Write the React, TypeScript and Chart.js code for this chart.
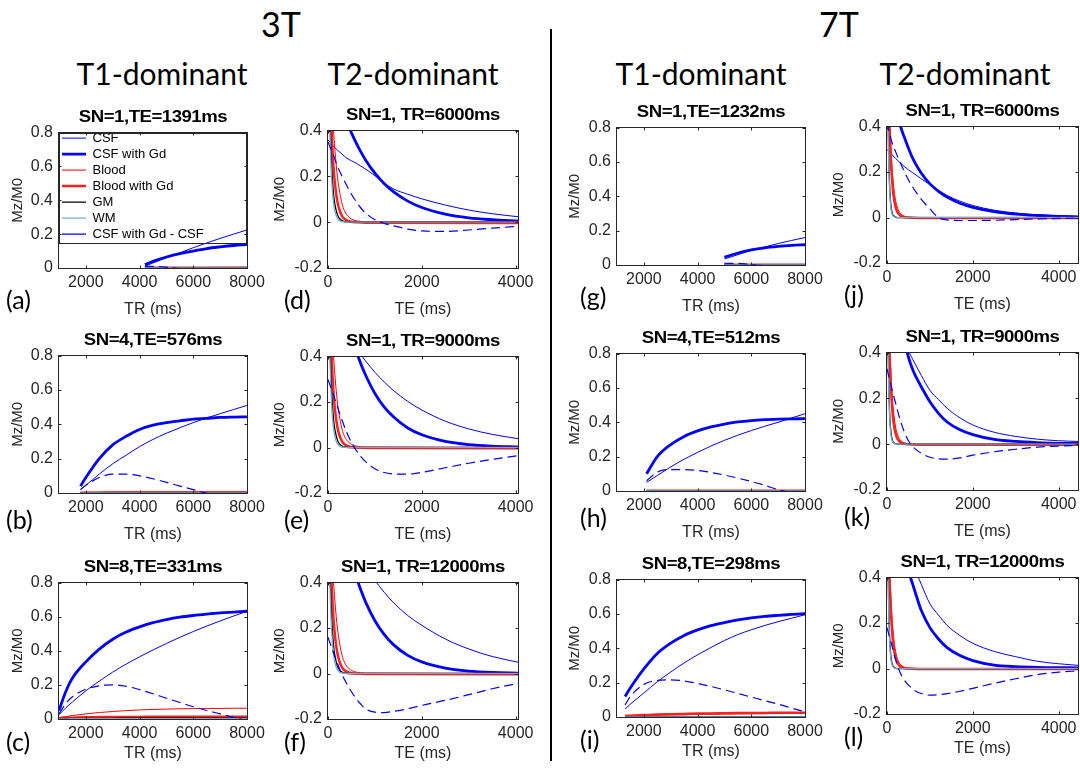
import React, { useEffect, useRef } from 'react';
import { Chart, registerables } from 'chart.js';

Chart.register(...registerables);

// ------------------------------------------------------------------
// Data
// ------------------------------------------------------------------
const SERIES_LABELS = ['CSF', 'CSF with Gd', 'Blood', 'Blood with Gd', 'GM', 'WM', 'CSF with Gd - CSF'];

const TR_TICKS = [2000, 4000, 6000, 8000];
const TE_TICKS = [0, 2000, 4000];
const T1_Y_TICKS = [0, 0.2, 0.4, 0.6, 0.8];
const T2_Y_TICKS = [-0.2, 0, 0.2, 0.4];

// (a) 3T, SN=1, TE=1391ms
const TR_A = [4200, 4500, 5000, 5500, 6000, 6500, 7000, 7500, 8000];
const A_CSF = [0.01, 0.03, 0.06, 0.09, 0.12, 0.148, 0.175, 0.2, 0.225];
const A_CSFGD = [0.02, 0.04, 0.065, 0.085, 0.1, 0.115, 0.125, 0.133, 0.138];
const A_BLOOD = [0.002, 0.002, 0.003, 0.003, 0.003, 0.003, 0.004, 0.004, 0.004];
const A_BLOODGD = [0.001, 0.001, 0.002, 0.002, 0.002, 0.002, 0.002, 0.002, 0.002];
const A_GM = [0.001, 0.001, 0.001, 0.001, 0.001, 0.001, 0.001, 0.001, 0.001];
const A_WM = [0.001, 0.001, 0.001, 0.001, 0.001, 0.001, 0.001, 0.001, 0.001];
const A_DIFF = [0.01, 0.01, 0.005, -0.005, -0.02, -0.033, -0.05, -0.067, -0.087];

// (b) 3T, SN=4, TE=576ms
const TR_B = [1800, 2000, 2500, 3000, 3500, 4000, 4500, 5000, 5500, 6000, 6500, 7000, 7500, 8000];
const B_CSF = [0.02, 0.045, 0.11, 0.17, 0.22, 0.27, 0.312, 0.348, 0.38, 0.41, 0.437, 0.462, 0.486, 0.51];
const B_CSFGD = [0.04, 0.09, 0.2, 0.28, 0.33, 0.37, 0.395, 0.41, 0.42, 0.43, 0.435, 0.44, 0.442, 0.443];
const B_BLOOD = [0.003, 0.004, 0.005, 0.006, 0.006, 0.007, 0.007, 0.007, 0.007, 0.007, 0.007, 0.007, 0.007, 0.007];
const B_BLOODGD = [0.002, 0.002, 0.002, 0.003, 0.003, 0.003, 0.003, 0.003, 0.003, 0.003, 0.003, 0.003, 0.003, 0.003];
const B_GM = [0.001, 0.001, 0.001, 0.001, 0.001, 0.001, 0.001, 0.001, 0.001, 0.001, 0.001, 0.001, 0.001, 0.001];
const B_WM = [0.001, 0.001, 0.001, 0.001, 0.001, 0.001, 0.001, 0.001, 0.001, 0.001, 0.001, 0.001, 0.001, 0.001];
const B_DIFF = [0.02, 0.045, 0.09, 0.11, 0.11, 0.1, 0.083, 0.062, 0.04, 0.02, -0.002, -0.022, -0.044, -0.067];

// (c) 3T, SN=8, TE=331ms
const TR_C = [1000, 1250, 1500, 2000, 2500, 3000, 3500, 4000, 4500, 5000, 5500, 6000, 6500, 7000, 7500, 8000];
const C_CSF = [0.025, 0.065, 0.1, 0.165, 0.222, 0.275, 0.322, 0.365, 0.405, 0.443, 0.479, 0.513, 0.545, 0.575, 0.604, 0.632];
const C_CSFGD = [0.05, 0.16, 0.24, 0.335, 0.41, 0.468, 0.51, 0.54, 0.565, 0.583, 0.597, 0.607, 0.615, 0.622, 0.627, 0.632];
const C_BLOOD = [0.008, 0.014, 0.02, 0.03, 0.038, 0.044, 0.049, 0.053, 0.056, 0.058, 0.06, 0.061, 0.062, 0.062, 0.063, 0.063];
const C_BLOODGD = [0.005, 0.007, 0.008, 0.01, 0.011, 0.012, 0.012, 0.012, 0.013, 0.013, 0.013, 0.013, 0.013, 0.013, 0.013, 0.013];
const C_GM = [0.002, 0.003, 0.003, 0.004, 0.004, 0.004, 0.005, 0.005, 0.005, 0.005, 0.005, 0.005, 0.005, 0.005, 0.005, 0.005];
const C_WM = [0.001, 0.001, 0.002, 0.002, 0.002, 0.002, 0.002, 0.002, 0.002, 0.002, 0.002, 0.002, 0.002, 0.002, 0.002, 0.002];
const C_DIFF = [0.03, 0.09, 0.13, 0.175, 0.195, 0.2, 0.192, 0.172, 0.148, 0.122, 0.097, 0.072, 0.05, 0.03, 0.01, -0.01];

// (g) 7T, SN=1, TE=1232ms
const TR_G = [5000, 5500, 6000, 6500, 7000, 7500, 8000];
const G_CSF = [0.035, 0.06, 0.085, 0.105, 0.125, 0.143, 0.16];
const G_CSFGD = [0.045, 0.07, 0.088, 0.1, 0.108, 0.114, 0.118];
const G_BLOOD = [0.002, 0.002, 0.002, 0.002, 0.002, 0.002, 0.002];
const G_BLOODGD = [0.001, 0.001, 0.001, 0.001, 0.001, 0.001, 0.001];
const G_GM = [0.001, 0.001, 0.001, 0.001, 0.001, 0.001, 0.001];
const G_WM = [0.001, 0.001, 0.001, 0.001, 0.001, 0.001, 0.001];
const G_DIFF = [0.01, 0.01, 0.003, -0.005, -0.017, -0.029, -0.042];

// (h) 7T, SN=4, TE=512ms
const TR_H = [2100, 2500, 3000, 3500, 4000, 4500, 5000, 5500, 6000, 6500, 7000, 7500, 8000];
const H_CSF = [0.05, 0.09, 0.14, 0.185, 0.225, 0.262, 0.295, 0.325, 0.352, 0.377, 0.4, 0.425, 0.45];
const H_CSFGD = [0.1, 0.2, 0.27, 0.318, 0.35, 0.373, 0.39, 0.402, 0.41, 0.415, 0.418, 0.42, 0.421];
const H_BLOOD = [0.003, 0.003, 0.003, 0.003, 0.003, 0.003, 0.003, 0.003, 0.003, 0.003, 0.003, 0.003, 0.003];
const H_BLOODGD = [0.002, 0.002, 0.002, 0.002, 0.002, 0.002, 0.002, 0.002, 0.002, 0.002, 0.002, 0.002, 0.002];
const H_GM = [0.001, 0.001, 0.001, 0.001, 0.001, 0.001, 0.001, 0.001, 0.001, 0.001, 0.001, 0.001, 0.001];
const H_WM = [0.001, 0.001, 0.001, 0.001, 0.001, 0.001, 0.001, 0.001, 0.001, 0.001, 0.001, 0.001, 0.001];
const H_DIFF = [0.06, 0.11, 0.125, 0.125, 0.12, 0.108, 0.093, 0.075, 0.055, 0.033, 0.008, -0.01, -0.03];

// (i) 7T, SN=8, TE=298ms
const TR_I = [1300, 1500, 2000, 2500, 3000, 3500, 4000, 4500, 5000, 5500, 6000, 6500, 7000, 7500, 8000];
const I_CSF = [0.047, 0.075, 0.14, 0.205, 0.262, 0.315, 0.362, 0.405, 0.445, 0.48, 0.508, 0.533, 0.555, 0.575, 0.595];
const I_CSFGD = [0.12, 0.17, 0.28, 0.37, 0.43, 0.475, 0.507, 0.532, 0.55, 0.565, 0.577, 0.586, 0.592, 0.597, 0.602];
const I_BLOOD = [0.005, 0.006, 0.008, 0.01, 0.012, 0.013, 0.015, 0.016, 0.017, 0.018, 0.019, 0.02, 0.02, 0.021, 0.021];
const I_BLOODGD = [0.006, 0.008, 0.011, 0.014, 0.016, 0.018, 0.02, 0.021, 0.022, 0.023, 0.024, 0.024, 0.025, 0.025, 0.025];
const I_GM = [0.002, 0.002, 0.002, 0.002, 0.002, 0.002, 0.002, 0.002, 0.002, 0.002, 0.002, 0.002, 0.002, 0.002, 0.002];
const I_WM = [0.001, 0.001, 0.001, 0.001, 0.001, 0.001, 0.001, 0.001, 0.001, 0.001, 0.001, 0.001, 0.001, 0.001, 0.001];
const I_DIFF = [0.07, 0.12, 0.19, 0.213, 0.216, 0.21, 0.196, 0.178, 0.158, 0.137, 0.116, 0.095, 0.075, 0.052, 0.03];

// T2-dominant panels: tissue curves (fast decay) at 3T and 7T
const TE3_FAST = [0, 25, 50, 75, 100, 125, 150, 200, 250, 300, 350, 400, 500, 600, 800, 4050];
const GM_3T = [1.0, 0.62, 0.4, 0.26, 0.17, 0.11, 0.075, 0.033, 0.015, 0.007, 0.003, 0.001, 0, 0, 0, 0];
const WM_3T = [1.0, 0.56, 0.33, 0.2, 0.12, 0.075, 0.045, 0.017, 0.006, 0.002, 0.001, 0, 0, 0, 0, 0];
const BLOOD_3T = [1.0, 0.82, 0.68, 0.56, 0.46, 0.38, 0.31, 0.2, 0.13, 0.08, 0.05, 0.032, 0.014, 0.006, 0.003, 0.002];
const BLOODGD_3T = [1.0, 0.74, 0.55, 0.41, 0.3, 0.22, 0.165, 0.09, 0.05, 0.027, 0.015, 0.008, 0.002, 0, -0.002, -0.003];

const TE7_FAST = [0, 25, 50, 75, 100, 125, 150, 200, 250, 300, 350, 400, 500, 600, 800, 4450];
const GM_7T = [1.0, 0.45, 0.2, 0.09, 0.04, 0.018, 0.008, 0.002, 0, 0, 0, 0, 0, 0, 0, 0];
const WM_7T = [1.0, 0.42, 0.18, 0.075, 0.03, 0.013, 0.005, 0.001, 0, 0, 0, 0, 0, 0, 0, 0];
const BLOOD_7T = [1.0, 0.72, 0.52, 0.38, 0.27, 0.2, 0.145, 0.075, 0.04, 0.02, 0.011, 0.006, 0.002, 0.001, 0, 0];
const BLOODGD_7T = [1.0, 0.68, 0.46, 0.32, 0.22, 0.15, 0.1, 0.047, 0.022, 0.01, 0.005, 0.002, 0, -0.001, -0.002, -0.002];

// T2-dominant panels: CSF curves (slow decay)
const TE3_SLOW = [0, 100, 200, 300, 400, 500, 600, 700, 800, 1000, 1200, 1400, 1700, 2000, 2500, 3000, 3500, 4050];
// (d) 3T, TR=6000ms
const D_CSF = [0.36, 0.335, 0.315, 0.297, 0.28, 0.268, 0.258, 0.245, 0.232, 0.203, 0.17, 0.145, 0.122, 0.102, 0.075, 0.053, 0.037, 0.024];
const D_CSFGD = [0.713, 0.632, 0.56, 0.496, 0.439, 0.39, 0.346, 0.307, 0.272, 0.214, 0.168, 0.132, 0.092, 0.064, 0.035, 0.019, 0.011, 0.0055];
const D_DIFF = [0.35, 0.3, 0.245, 0.2, 0.16, 0.122, 0.09, 0.062, 0.04, 0.011, -0.005, -0.016, -0.03, -0.038, -0.04, -0.034, -0.026, -0.018];
// (e) 3T, TR=9000ms
const E_CSF = [0.665, 0.62, 0.578, 0.54, 0.503, 0.469, 0.438, 0.408, 0.381, 0.331, 0.288, 0.25, 0.203, 0.165, 0.116, 0.082, 0.058, 0.039];
const E_CSFGD = [1.016, 0.879, 0.76, 0.658, 0.569, 0.492, 0.426, 0.368, 0.319, 0.238, 0.178, 0.134, 0.086, 0.056, 0.027, 0.013, 0.0064, 0.0029];
const E_DIFF = [0.3, 0.24, 0.18, 0.12, 0.066, 0.023, -0.012, -0.04, -0.062, -0.093, -0.11, -0.116, -0.117, -0.109, -0.089, -0.069, -0.052, -0.036];
// (f) 3T, TR=12000ms
const F_CSF = [0.816, 0.762, 0.711, 0.664, 0.62, 0.579, 0.54, 0.504, 0.471, 0.41, 0.357, 0.311, 0.255, 0.212, 0.152, 0.108, 0.075, 0.05];
const F_CSFGD = [1.06, 0.914, 0.785, 0.674, 0.579, 0.497, 0.427, 0.367, 0.315, 0.232, 0.171, 0.126, 0.08, 0.051, 0.024, 0.011, 0.005, 0.0022];
const F_DIFF = [0.16, 0.1, 0.045, -0.005, -0.045, -0.08, -0.11, -0.135, -0.155, -0.17, -0.172, -0.166, -0.155, -0.14, -0.118, -0.093, -0.067, -0.043];

const TE7_SLOW = [0, 100, 200, 300, 400, 500, 600, 700, 800, 1000, 1200, 1400, 1700, 2000, 2500, 3000, 3500, 4000, 4450];
// (j) 7T, TR=6000ms
const J_CSF = [0.3, 0.28, 0.26, 0.242, 0.225, 0.21, 0.197, 0.184, 0.17, 0.145, 0.12, 0.097, 0.072, 0.053, 0.032, 0.02, 0.012, 0.008, 0.005];
const J_CSFGD = [0.7, 0.58, 0.49, 0.41, 0.355, 0.305, 0.26, 0.225, 0.195, 0.148, 0.115, 0.09, 0.063, 0.045, 0.026, 0.015, 0.009, 0.005, 0.003];
const J_DIFF = [0.42, 0.34, 0.29, 0.245, 0.205, 0.165, 0.133, 0.105, 0.08, 0.038, 0.0, -0.01, -0.013, -0.013, -0.012, -0.009, -0.006, -0.004, -0.003];
// (k) 7T, TR=9000ms
const K_CSF = [0.75, 0.67, 0.6, 0.53, 0.47, 0.41, 0.37, 0.335, 0.3, 0.235, 0.195, 0.157, 0.115, 0.084, 0.052, 0.034, 0.022, 0.015, 0.012];
const K_CSFGD = [1.0, 0.85, 0.7, 0.56, 0.46, 0.38, 0.325, 0.285, 0.25, 0.185, 0.135, 0.097, 0.063, 0.042, 0.021, 0.012, 0.007, 0.004, 0.003];
const K_DIFF = [0.33, 0.25, 0.18, 0.11, 0.055, 0.015, -0.01, -0.027, -0.04, -0.057, -0.064, -0.065, -0.06, -0.048, -0.033, -0.022, -0.013, -0.008, -0.005];
// (l) 7T, TR=12000ms
const L_CSF = [0.9, 0.82, 0.74, 0.67, 0.6, 0.52, 0.465, 0.415, 0.37, 0.285, 0.235, 0.19, 0.145, 0.111, 0.075, 0.052, 0.032, 0.021, 0.014];
const L_CSFGD = [1.0, 0.86, 0.72, 0.6, 0.5, 0.43, 0.37, 0.31, 0.255, 0.18, 0.13, 0.092, 0.057, 0.035, 0.015, 0.008, 0.005, 0.004, 0.003];
const L_DIFF = [0.18, 0.11, 0.04, -0.015, -0.05, -0.073, -0.09, -0.103, -0.11, -0.117, -0.115, -0.11, -0.1, -0.087, -0.065, -0.045, -0.027, -0.016, -0.01];

// ------------------------------------------------------------------
// Styles and layout
// ------------------------------------------------------------------
const FONT = '"Liberation Sans", Arial, Helvetica, sans-serif';
const HFONT = 'Lato, "Open Sans", sans-serif';
const AX = '#262626';
const YW = 62; // y-axis box width
const PT = 12; // top padding of each canvas
const PR = 30; // right padding of each canvas
const XH = 52; // x-axis box height
const LEGEND_H = 110;
const XTITLE_FIX = 6;

const STYLES = [
  { color: '#0000FF', width: 1, dash: [] as number[] },
  { color: '#0000FF', width: 2.8, dash: [] as number[] },
  { color: '#FF0000', width: 1, dash: [] as number[] },
  { color: '#FF2020', width: 2.5, dash: [] as number[] },
  { color: '#000000', width: 1.3, dash: [] as number[] },
  { color: '#72AACE', width: 1.3, dash: [] as number[] },
  { color: '#0000FF', width: 1.2, dash: [9, 5] },
];

type Series = [number[], number[]];
interface PanelCfg {
  id: string;
  kind: 'T1' | 'T2';
  title: string;
  rect: [number, number, number, number];
  xMax: number;
  series: Series[];
  legend?: boolean;
  yTitleDx: number;
  xTitleDy: number;
  letterX: number;
  letterDy: number;
}

const t1 = (xs: number[], a: number[][]): Series[] => a.map((ys) => [xs, ys] as Series);
const t2 = (slow: number[], fast: number[], csf: number[], gd: number[], bl: number[], blgd: number[], gm: number[], wm: number[], diff: number[]): Series[] => [
  [slow, csf], [slow, gd], [fast, bl], [fast, blgd], [fast, gm], [fast, wm], [slow, diff],
];

const PANELS: PanelCfg[] = [
  { id: 'a', kind: 'T1', title: 'SN=1,TE=1391ms', rect: [59, 129, 247, 268], xMax: 8000, legend: true,
    series: t1(TR_A, [A_CSF, A_CSFGD, A_BLOOD, A_BLOODGD, A_GM, A_WM, A_DIFF]), yTitleDx: 41, xTitleDy: 36, letterX: 6, letterDy: 31 },
  { id: 'b', kind: 'T1', title: 'SN=4,TE=576ms', rect: [59, 352, 247, 493], xMax: 8000,
    series: t1(TR_B, [B_CSF, B_CSFGD, B_BLOOD, B_BLOODGD, B_GM, B_WM, B_DIFF]), yTitleDx: 41, xTitleDy: 36, letterX: 6, letterDy: 26 },
  { id: 'c', kind: 'T1', title: 'SN=8,TE=331ms', rect: [59, 579, 247, 719], xMax: 8000,
    series: t1(TR_C, [C_CSF, C_CSFGD, C_BLOOD, C_BLOODGD, C_GM, C_WM, C_DIFF]), yTitleDx: 41, xTitleDy: 29, letterX: 6, letterDy: 22 },
  { id: 'd', kind: 'T2', title: 'SN=1, TR=6000ms', rect: [328, 127, 518, 268], xMax: 4050,
    series: t2(TE3_SLOW, TE3_FAST, D_CSF, D_CSFGD, BLOOD_3T, BLOODGD_3T, GM_3T, WM_3T, D_DIFF), yTitleDx: 48, xTitleDy: 36, letterX: 284, letterDy: 31 },
  { id: 'e', kind: 'T2', title: 'SN=1, TR=9000ms', rect: [328, 353, 518, 493], xMax: 4050,
    series: t2(TE3_SLOW, TE3_FAST, E_CSF, E_CSFGD, BLOOD_3T, BLOODGD_3T, GM_3T, WM_3T, E_DIFF), yTitleDx: 48, xTitleDy: 36, letterX: 284, letterDy: 26 },
  { id: 'f', kind: 'T2', title: 'SN=1, TR=12000ms', rect: [328, 579, 518, 719], xMax: 4050,
    series: t2(TE3_SLOW, TE3_FAST, F_CSF, F_CSFGD, BLOOD_3T, BLOODGD_3T, GM_3T, WM_3T, F_DIFF), yTitleDx: 48, xTitleDy: 29, letterX: 284, letterDy: 22 },
  { id: 'g', kind: 'T1', title: 'SN=1,TE=1232ms', rect: [617, 124, 805, 265], xMax: 8000,
    series: t1(TR_G, [G_CSF, G_CSFGD, G_BLOOD, G_BLOODGD, G_GM, G_WM, G_DIFF]), yTitleDx: 42, xTitleDy: 36, letterX: 580, letterDy: 31 },
  { id: 'h', kind: 'T1', title: 'SN=4,TE=512ms', rect: [617, 350, 805, 491], xMax: 8000,
    series: t1(TR_H, [H_CSF, H_CSFGD, H_BLOOD, H_BLOODGD, H_GM, H_WM, H_DIFF]), yTitleDx: 42, xTitleDy: 36, letterX: 580, letterDy: 26 },
  { id: 'i', kind: 'T1', title: 'SN=8,TE=298ms', rect: [617, 576, 805, 717], xMax: 8000,
    series: t1(TR_I, [I_CSF, I_CSFGD, I_BLOOD, I_BLOODGD, I_GM, I_WM, I_DIFF]), yTitleDx: 42, xTitleDy: 29, letterX: 580, letterDy: 22 },
  { id: 'j', kind: 'T2', title: 'SN=1, TR=6000ms', rect: [887, 123, 1078, 263], xMax: 4450,
    series: t2(TE7_SLOW, TE7_FAST, J_CSF, J_CSFGD, BLOOD_7T, BLOODGD_7T, GM_7T, WM_7T, J_DIFF), yTitleDx: 48, xTitleDy: 36, letterX: 844, letterDy: 31 },
  { id: 'k', kind: 'T2', title: 'SN=1, TR=9000ms', rect: [887, 349, 1078, 490], xMax: 4450,
    series: t2(TE7_SLOW, TE7_FAST, K_CSF, K_CSFGD, BLOOD_7T, BLOODGD_7T, GM_7T, WM_7T, K_DIFF), yTitleDx: 48, xTitleDy: 36, letterX: 844, letterDy: 26 },
  { id: 'l', kind: 'T2', title: 'SN=1, TR=12000ms', rect: [887, 574, 1078, 714], xMax: 4450,
    series: t2(TE7_SLOW, TE7_FAST, L_CSF, L_CSFGD, BLOOD_7T, BLOODGD_7T, GM_7T, WM_7T, L_DIFF), yTitleDx: 48, xTitleDy: 29, letterX: 844, letterDy: 22 },
];

// draws MATLAB-like box with inward ticks (and the legend frame)
const boxPlugin = {
  id: 'matlabBox',
  afterLayout(chart: any) {
    const lg = chart.legend;
    if (lg && lg.options && lg.options.display) {
      const a = chart.chartArea;
      const h = lg.height;
      lg.left = a.left;
      lg.top = a.top - 4;
      lg.bottom = lg.top + h;
    }
  },
  afterDatasetsDraw(chart: any, _args: any, opts: any) {
    const { ctx, chartArea: a, scales } = chart;
    ctx.save();
    ctx.strokeStyle = AX;
    ctx.lineWidth = 1;
    ctx.setLineDash([]);
    const L = Math.round(a.left) - 0.5;
    const T = Math.round(a.top) - 0.5;
    const R = Math.round(a.right) + 0.5;
    const B = Math.round(a.bottom) + 0.5;
    ctx.strokeRect(L, T, R - L, B - T);
    const tl = 3;
    ctx.beginPath();
    for (const t of scales.x.ticks) {
      const px = Math.round(scales.x.getPixelForValue(t.value)) + 0.5;
      ctx.moveTo(px, B); ctx.lineTo(px, B - tl);
      ctx.moveTo(px, T); ctx.lineTo(px, T + tl);
    }
    for (const t of scales.y.ticks) {
      const py = Math.round(scales.y.getPixelForValue(t.value)) + 0.5;
      ctx.moveTo(L, py); ctx.lineTo(L + tl, py);
      ctx.moveTo(R, py); ctx.lineTo(R - tl, py);
    }
    ctx.stroke();
    if (opts && opts.legendFrame) {
      ctx.strokeStyle = AX;
      ctx.strokeRect(L + 1, T + 1, R - L - 2, LEGEND_H);
    }
    ctx.restore();
  },
};

function PanelChart({ p }: { p: PanelCfg }) {
  const ref = useRef<HTMLCanvasElement>(null);
  const [L, T, R, B] = p.rect;
  const w = YW + (R - L) + PR;
  const h = PT + (B - T) + XH;

  useEffect(() => {
    const isT1 = p.kind === 'T1';
    const xTicks = isT1 ? TR_TICKS : TE_TICKS;
    const yTicks = isT1 ? T1_Y_TICKS : T2_Y_TICKS;
    const chart = new Chart(ref.current as HTMLCanvasElement, {
      type: 'line',
      data: {
        datasets: p.series.map(([xs, ys], i) => ({
          label: SERIES_LABELS[i],
          data: xs.map((x, k) => ({ x, y: ys[k] })),
          borderColor: STYLES[i].color,
          backgroundColor: STYLES[i].color,
          borderWidth: STYLES[i].width,
          borderDash: STYLES[i].dash,
          pointRadius: 0,
          pointHoverRadius: 0,
          fill: false,
          cubicInterpolationMode: 'monotone',
          order: 6 - i,
        })),
      },
      options: {
        animation: false,
        responsive: false,
        devicePixelRatio: 1,
        events: [],
        layout: { padding: { left: 0, top: PT, right: PR, bottom: 0 } },
        plugins: {
          tooltip: { enabled: false },
          title: { display: false },
          legend: p.legend
            ? {
                display: true,
                position: 'chartArea',
                align: 'start',
                labels: {
                  usePointStyle: true,
                  pointStyle: 'line',
                  pointStyleWidth: 24,
                  boxHeight: 13,
                  padding: 3,
                  color: '#000',
                  font: { family: FONT, size: 13 },
                  sort: (a: any, b: any) => a.datasetIndex - b.datasetIndex,
                },
              }
            : { display: false },
          matlabBox: { legendFrame: !!p.legend },
        } as any,
        scales: {
          x: {
            type: 'linear',
            min: isT1 ? 1000 : 0,
            max: p.xMax,
            grid: { display: false, drawTicks: false },
            border: { display: false },
            afterBuildTicks: (s: any) => { s.ticks = xTicks.map((v) => ({ value: v })); },
            afterFit: (s: any) => { s.height = XH; },
            ticks: {
              autoSkip: false, maxRotation: 0, padding: 5, color: AX,
              font: { family: FONT, size: 16 },
              callback: (v: any) => String(v),
            },
            title: {
              display: true, text: isT1 ? 'TR (ms)' : 'TE (ms)', color: AX,
              font: { family: FONT, size: 16 },
              padding: { top: 0, bottom: XH - p.xTitleDy - 9.6 - XTITLE_FIX },
            },
          },
          y: {
            type: 'linear',
            min: isT1 ? 0 : -0.2,
            max: isT1 ? 0.8 : 0.4,
            grid: { display: false, drawTicks: false },
            border: { display: false },
            afterBuildTicks: (s: any) => { s.ticks = yTicks.map((v) => ({ value: v })); },
            afterFit: (s: any) => { s.width = YW; },
            ticks: {
              padding: 6, color: AX,
              font: { family: FONT, size: 16 },
              callback: (v: any) => String(v),
            },
            title: {
              display: true, text: 'Mz/M0', color: AX,
              font: { family: FONT, size: 15 },
              padding: { top: YW - p.yTitleDx - 9, bottom: 0 },
            },
          },
        },
      } as any,
      plugins: [boxPlugin as any],
    });
    return () => chart.destroy();
  }, []);

  return (
    <>
      <canvas
        ref={ref}
        width={w}
        height={h}
        style={{ position: 'absolute', left: L - YW, top: T - PT, width: w, height: h }}
      />
      <div
        style={{
          position: 'absolute', left: L - 20, width: R - L + 40, top: T - 22, height: 20,
          lineHeight: '20px', textAlign: 'center', fontFamily: FONT, fontWeight: 'bold',
          fontSize: 16, letterSpacing: '-0.4px', transform: 'scaleX(1.16)', whiteSpace: 'nowrap', color: '#000',
        }}
      >
        {p.title}
      </div>
      <div
        style={{
          position: 'absolute', left: p.letterX, top: B + p.letterDy - 15, height: 30,
          lineHeight: '30px', fontFamily: HFONT, fontSize: 25, color: '#000', whiteSpace: 'nowrap',
        }}
      >
        ({p.id})
      </div>
    </>
  );
}

const HEADERS = [
  { text: '3T', cx: 281, cy: 24, size: 34 },
  { text: '7T', cx: 839, cy: 24, size: 34 },
  { text: 'T1-dominant', cx: 162, cy: 73, size: 30 },
  { text: 'T2-dominant', cx: 413, cy: 73, size: 30 },
  { text: 'T1-dominant', cx: 701, cy: 73, size: 30 },
  { text: 'T2-dominant', cx: 965, cy: 73, size: 30 },
];

export default function App() {
  return (
    <div
      style={{
        position: 'absolute', left: 0, top: 0, width: 1080, height: 768,
        overflow: 'hidden', background: '#fff',
      }}
    >
      {HEADERS.map((hd, i) => (
        <div
          key={i}
          style={{
            position: 'absolute', left: hd.cx - 150, width: 300, top: hd.cy - 25, height: 50,
            lineHeight: '50px', textAlign: 'center', fontFamily: HFONT, fontSize: hd.size,
            color: '#000', whiteSpace: 'nowrap',
          }}
        >
          {hd.text}
        </div>
      ))}
      <div style={{ position: 'absolute', left: 550, top: 29, width: 2, height: 732, background: '#000' }} />
      {PANELS.map((p) => (
        <PanelChart key={p.id} p={p} />
      ))}
    </div>
  );
}
